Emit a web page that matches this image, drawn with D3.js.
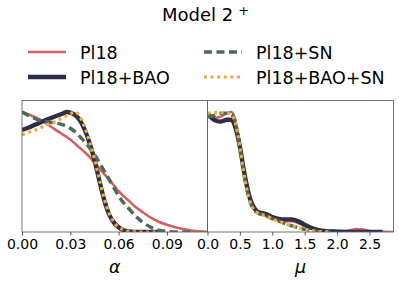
<!DOCTYPE html>
<html><head><meta charset="utf-8">
<script src="https://cdn.jsdelivr.net/npm/d3@7"></script>
<style>body{margin:0;background:#fff}svg{display:block}text{font-family:"DejaVu Sans",sans-serif}</style>
</head><body><svg id="c" width="399" height="283"></svg>
<script>
const seriesNames = ["Pl18", "Pl18+BAO", "Pl18+SN", "Pl18+BAO+SN"];
const colors = ["#d65f5f", "#2e2d4c", "#486c58", "#f2a93b"];
const alphaTicks = [0.00, 0.03, 0.06, 0.09];
const muTicks = [0.0, 0.5, 1.0, 1.5, 2.0, 2.5];

// alpha posteriors (normalised to peak 1); null = outside sampled range
const alphaGrid = [0,0.005,0.01,0.015,0.02,0.025,0.028,0.03,0.033,0.036,0.039,0.042,0.045,0.048,0.051,0.054,0.057,0.06,0.063,0.066,0.07,0.075,0.08,0.085,0.09,0.095,0.1,0.105,0.11,0.115];
const alphaPl18 =      [1.0,0.975,0.945,0.905,0.86,0.815,0.79,0.77,0.735,0.70,0.665,0.625,0.575,0.53,0.485,0.44,0.39,0.34,0.30,0.265,0.215,0.165,0.12,0.085,0.06,0.04,0.025,0.013,0.006,0.002];
const alphaPl18BAO =   [0.85,0.875,0.905,0.935,0.96,0.985,1.0,0.995,0.975,0.93,0.85,0.74,0.60,0.43,0.27,0.15,0.08,0.04,0.015,0.005,0.001,0,0,0,null,null,null,null,null,null];
const alphaPl18SN =    [1.0,0.965,0.935,0.92,0.91,0.895,0.88,0.865,0.835,0.795,0.75,0.70,0.645,0.58,0.51,0.44,0.37,0.30,0.245,0.20,0.14,0.08,0.04,0.015,0.005,0.001,0,0,null,null];
const alphaPl18BAOSN = [0.81,0.835,0.86,0.89,0.915,0.95,0.97,0.985,1.0,0.96,0.87,0.75,0.61,0.44,0.28,0.16,0.085,0.04,0.018,0.006,0.002,0,0,0,null,null,null,null,null,null];

// mu posteriors
const muGrid = [0,0.1,0.2,0.3,0.37,0.42,0.465,0.51,0.555,0.605,0.655,0.71,0.77,0.9,1.0,1.1,1.2,1.3,1.4,1.5,1.6,1.7,1.8,1.9,2.0,2.1,2.2,2.3,2.4,2.5,2.6,2.7,2.87];
const muPl18 =      [0.97,0.95,0.96,0.99,1.0,0.95,0.84,0.70,0.55,0.41,0.30,0.22,0.17,0.135,0.115,0.10,0.09,0.09,0.075,0.052,0.03,0.018,0.012,0.01,0.008,0.008,0.015,0.025,0.02,0.008,0.003,0.001,0];
const muPl18BAO =   [0.99,0.935,0.92,0.935,0.935,0.89,0.80,0.68,0.53,0.39,0.28,0.21,0.17,0.15,0.125,0.11,0.105,0.105,0.09,0.06,0.035,0.018,0.008,0.005,0.003,0.001,0,0,0,0,0,0,null];
const muPl18SN =    [0.96,0.97,0.99,0.99,0.98,0.93,0.82,0.67,0.51,0.36,0.255,0.19,0.16,0.135,0.11,0.09,0.07,0.052,0.036,0.022,0.012,0.005,0.002,0,null,null,null,null,null,null,null,null,null];
const muPl18BAOSN = [0.99,0.995,0.995,0.99,0.975,0.93,0.82,0.67,0.51,0.36,0.255,0.19,0.16,0.135,0.11,0.09,0.07,0.052,0.036,0.022,0.012,0.005,0.002,0,null,null,null,null,null,null,null,null,null];

const svg = d3.select("#c");
const pTop = 100.5, pBottom = 232;
const y = d3.scaleLinear().domain([0, 1.1]).range([pBottom, pBottom - 120 * 1.1]);

const styles = [
  {w:2.6, dash:null},
  {w:4.4, dash:null},
  {w:3.4, dash:"8,4.5"},
  {w:3.2, dash:"3,3.6"}
];

function panel(x0, x1, domain, ticks, fmt, grid, data, label, id) {
  const x = d3.scaleLinear().domain(domain).range([x0, x1]);
  svg.append("clipPath").attr("id", id).append("rect")
    .attr("x", x0).attr("y", pTop).attr("width", x1 - x0).attr("height", pBottom - pTop);
  const g = svg.append("g").attr("clip-path", `url(#${id})`);
  data.forEach((vals, i) => {
    const line = d3.line().defined(d => d !== null)
      .x((d, j) => x(grid[j])).y(d => y(d)).curve(d3.curveMonotoneX);
    g.append("path").attr("d", line(vals)).attr("fill", "none")
      .attr("stroke", colors[i]).attr("stroke-width", styles[i].w)
      .attr("stroke-dasharray", styles[i].dash);
  });
  svg.append("rect").attr("x", x0).attr("y", pTop).attr("width", x1 - x0).attr("height", pBottom - pTop)
    .attr("fill", "none").attr("stroke", "#666").attr("stroke-width", 0.9);
  const ax = svg.append("g").attr("transform", `translate(0,${pBottom})`)
    .call(d3.axisBottom(x).tickValues(ticks).tickFormat(fmt).tickSize(3.5).tickPadding(4));
  ax.select(".domain").remove();
  ax.selectAll(".tick line").attr("stroke", "#444").attr("stroke-width", 0.9);
  ax.selectAll(".tick text").attr("font-size", 14).attr("fill", "#000")
    .attr("font-family", "DejaVu Sans");
  svg.append("text").attr("x", (x0 + x1) / 2).attr("y", 273).attr("text-anchor", "middle")
    .attr("font-size", 17.5).attr("font-style", "italic").text(label);
}

panel(22, 207.5, [0, 0.1152], alphaTicks, d3.format(".2f"), alphaGrid,
  [alphaPl18, alphaPl18BAO, alphaPl18SN, alphaPl18BAOSN], "α", "cl1");
panel(207.5, 393.5, [0, 2.87], muTicks, d3.format(".1f"), muGrid,
  [muPl18, muPl18BAO, muPl18SN, muPl18BAOSN], "μ", "cl2");

// title
const t = svg.append("text").attr("x", 162).attr("y", 20.5).attr("font-size", 18);
t.append("tspan").text("Model 2");
t.append("tspan").attr("dx", 5).attr("dy", -6).attr("font-size", 13).text("+");

// legend
const leg = [
  {x: 28, y: 52, i: 0}, {x: 28, y: 77, i: 1},
  {x: 204, y: 52, i: 2}, {x: 204, y: 77, i: 3}
];
leg.forEach(l => {
  const s = styles[l.i];
  svg.append("line").attr("x1", l.x).attr("x2", l.x + 38).attr("y1", l.y).attr("y2", l.y)
    .attr("stroke", colors[l.i]).attr("stroke-width", s.w)
    .attr("stroke-dasharray", s.dash);
  svg.append("text").attr("x", l.x + 52).attr("y", l.y + 6.5).attr("font-size", 17.5)
    .text(seriesNames[l.i]);
});
</script></body></html>
